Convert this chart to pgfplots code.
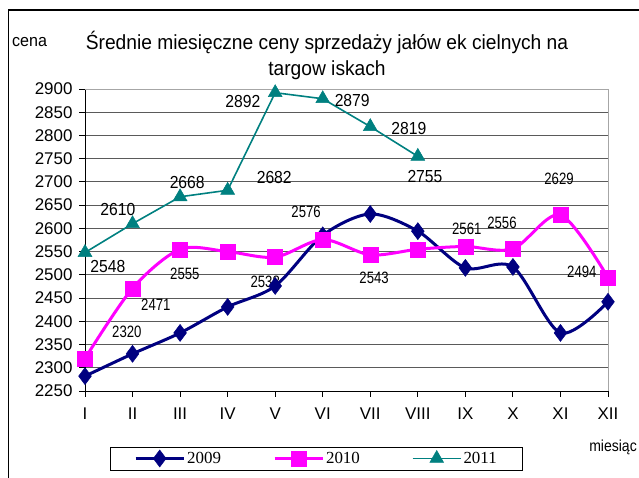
\documentclass[border=0pt]{standalone}
\usepackage{fontspec}
\setmainfont{Liberation Sans}
\newfontfamily\seriffont{Liberation Serif}
\usepackage{pgfplots}
\pgfplotsset{compat=1.18}
\definecolor{c2009}{RGB}{0,0,128}
\definecolor{c2010}{RGB}{255,0,255}
\definecolor{c2011}{RGB}{0,128,128}
\definecolor{gridc}{RGB}{90,90,90}
\pgfplotstableread{
m v2009 v2010
1 2282 2320
2 2330 2471
3 2375 2555
4 2431 2550
5 2476 2538
6 2585 2576
7 2631 2543
8 2594 2555
9 2515 2561
10 2517 2556
11 2375 2629
12 2442 2494
}\data
\pgfplotstableread{
m v2011
1 2548
2 2610
3 2668
4 2682
5 2892
6 2879
7 2819
8 2755
}\datab
\newcommand{\lblA}[1]{{\fontsize{17.5}{17.5}\selectfont\scalebox{0.9}[1]{#1}}}
\newcommand{\lblB}[1]{{\fontsize{16.5}{16.5}\selectfont\scalebox{0.8}[1]{#1}}}
\begin{document}
\begin{tikzpicture}[x=1bp,y=1bp]
\useasboundingbox (0,0) rectangle (639,478);
\draw[line width=1.2bp] (8.5,-2) -- (8.5,468) -- (641,468);
\node[font=\fontsize{20.5}{20.5}\selectfont] at (327,436) {\scalebox{0.94}[1]{Średnie miesięczne ceny sprzedaży jałów ek cielnych na}};
\node[font=\fontsize{20.5}{20.5}\selectfont] at (327,408) {\scalebox{0.94}[1]{targow iskach}};
\node[font=\fontsize{17}{17}\selectfont, anchor=west, inner sep=0pt] at (12,436) {\scalebox{0.95}[1]{cena}};
\node[font=\fontsize{16}{16}\selectfont, anchor=east, inner sep=0pt] at (637,31) {\scalebox{0.88}[1]{miesiąc}};
\begin{axis}[
  at={(85bp,87bp)}, anchor=south west,
  scale only axis, width=523bp, height=302bp,
  xmin=1, xmax=12, ymin=2250, ymax=2900,
  xtick={1,...,12},
  xticklabels={I,II,III,IV,V,VI,VII,VIII,IX,X,XI,XII},
  ytick={2250,2300,...,2900},
  axis lines*=left,
  axis line style={black, line width=0.9bp, -},
  tick align=outside,
  major tick length=6bp,
  tick style={black, line width=0.9bp},
  ymajorgrids,
  grid style={gridc, line width=0.9bp},
  /pgf/number format/assume math mode=true,
  /pgf/number format/1000 sep={},
  yticklabel style={font=\fontsize{17}{17}\selectfont, xshift=-3bp},
  xticklabel style={font=\fontsize{17}{17}\selectfont, yshift=-7bp},
  clip=false,
  legend columns=3,
  legend style={
    at={(axis description cs:0.4426,-0.2235)}, anchor=center,
    draw=black, line width=0.8bp,
    font=\seriffont\fontsize{17}{17}\selectfont,
    inner xsep=24bp, inner ysep=3bp,
    /tikz/every even column/.append style={column sep=50bp},
    cells={anchor=west},
  },
  legend image code/.code={\draw[#1, mark repeat=2, mark phase=2] plot coordinates {(0bp,0bp)(24bp,0bp)(48bp,0bp)};},
]
\draw[gray!70, line width=0.9bp] (rel axis cs:0,1) -- (rel axis cs:1,1) -- (rel axis cs:1,0);
\addplot[c2009, line width=3bp, smooth, mark=diamond*, mark size=8.5bp, mark options={solid, fill=c2009, line width=0.5bp}] table[x=m,y=v2009]{\data};
\addlegendentry{2009}
\addplot[c2010, line width=3bp, smooth, mark=square*, mark size=7.5bp, mark options={solid, fill=c2010, line width=0.5bp}] table[x=m,y=v2010]{\data};
\addlegendentry{2010}
\addplot[c2011, line width=1.6bp, mark=triangle*, mark size=8bp, mark options={solid, fill=c2011, line width=0.5bp}] table[x=m,y=v2011]{\datab};
\addlegendentry{2011}
% 2011 labels
\node at (axis cs:1.48,2517) {\lblA{2548}};
\node at (axis cs:1.69,2640) {\lblA{2610}};
\node at (axis cs:3.15,2698) {\lblA{2668}};
\node at (axis cs:4.98,2710) {\lblA{2682}};
\node at (axis cs:4.32,2874) {\lblA{2892}};
\node at (axis cs:6.62,2876) {\lblA{2879}};
\node at (axis cs:7.81,2816) {\lblA{2819}};
\node at (axis cs:8.15,2711) {\lblA{2755}};
% 2010 labels
\node at (axis cs:1.88,2377) {\lblB{2320}};
\node at (axis cs:2.49,2435) {\lblB{2471}};
\node at (axis cs:3.10,2502) {\lblB{2555}};
\node at (axis cs:4.79,2485) {\lblB{2538}};
\node at (axis cs:5.65,2635) {\lblB{2576}};
\node at (axis cs:7.08,2493) {\lblB{2543}};
\node at (axis cs:9.03,2599) {\lblB{2561}};
\node at (axis cs:9.77,2612) {\lblB{2556}};
\node at (axis cs:10.97,2706) {\lblB{2629}};
\node at (axis cs:11.45,2506) {\lblB{2494}};
\end{axis}
\end{tikzpicture}
\end{document}
